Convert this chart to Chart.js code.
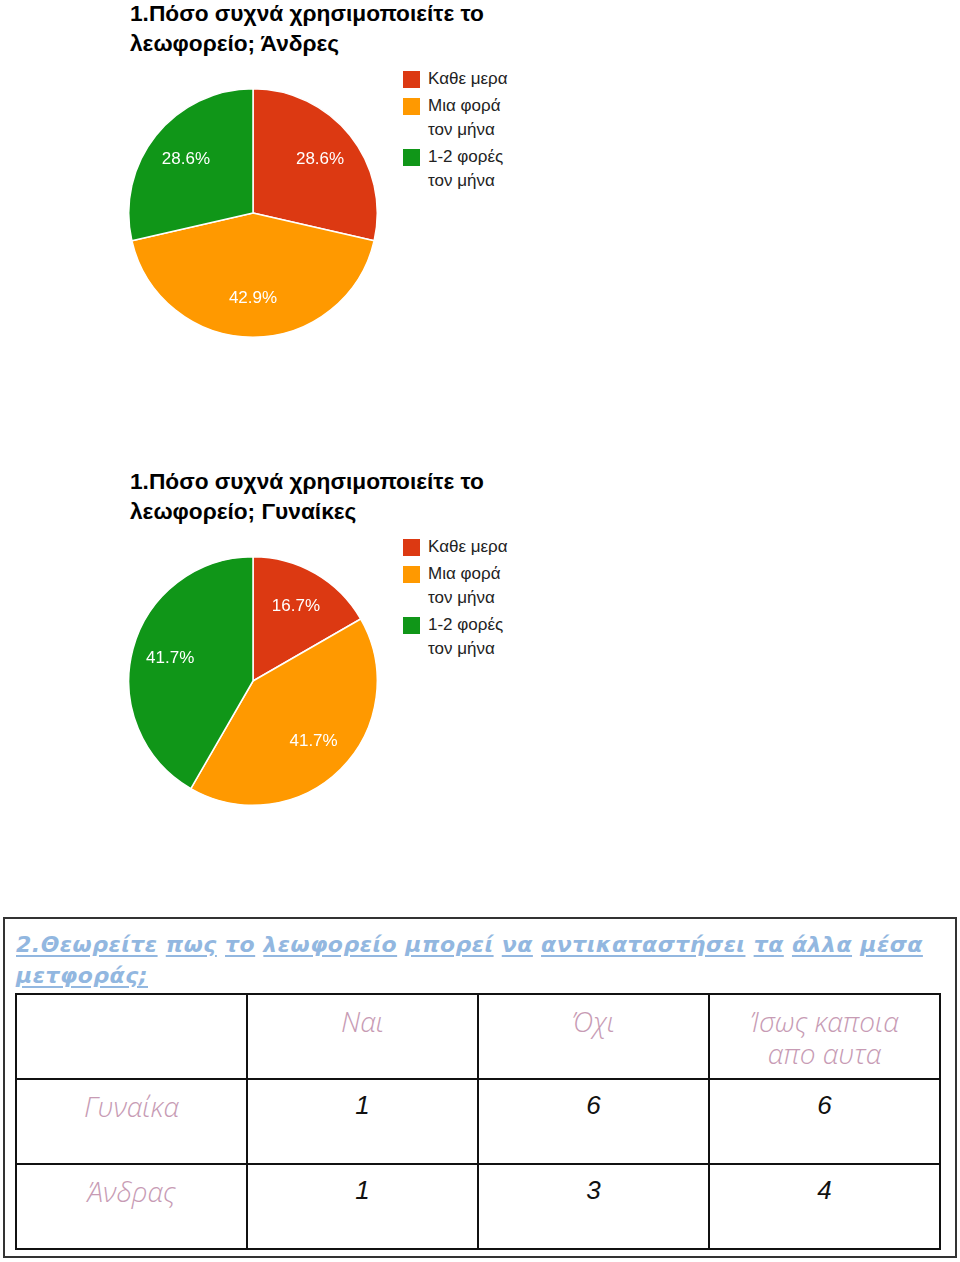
<!DOCTYPE html>
<html>
<head>
<meta charset="utf-8">
<script src="https://cdn.jsdelivr.net/npm/chart.js@4.4.0/dist/chart.umd.min.js"></script>
<style>
    body { margin: 0; background: #fff; }
    #page { position: relative; width: 960px; height: 1262px; overflow: hidden; }
    .title {
        position: absolute; left: 130px;
        font: bold 22.7px "Liberation Sans", Arial, sans-serif;
        line-height: 30px; color: #000;
    }
    .pie { position: absolute; left: 128px; width: 250px; height: 250px; }
    .legend {
        position: absolute; left: 403px; width: 120px;
        font: 17px "Liberation Sans", Arial, sans-serif; color: #222;
    }
    .legend .item { position: relative; padding-left: 25px; line-height: 24px; margin-bottom: 3px; width: 85px; }
    .legend .sw { position: absolute; left: 0; top: 4px; width: 17px; height: 17px; }
    #box {
        position: absolute; left: 3px; top: 917px; width: 950px; height: 337px;
        border: 2px solid #333;
    }
    #q2 {
        position: absolute; left: 11px; top: 10px; width: 940px;
        font: italic bold 22px "DejaVu Sans", sans-serif; letter-spacing: 0.5px;
        line-height: 31px; color: #92b7e0;
    }
    #q2 span { text-decoration: underline; text-underline-offset: 3px; }
    #tbl {
        position: absolute; left: 10px; top: 74px; border-collapse: collapse;
        table-layout: fixed;
    }
    #tbl td {
        width: 189px; height: 73px; border: 2px solid #111; padding: 10px 20px 0 20px;
        vertical-align: top; text-align: center; line-height: 32px;
        font: italic 26px "Liberation Sans", Arial, sans-serif; color: #111;
    }
    #tbl td.h { font: italic 300 28px "Open Sans", sans-serif; color: #c79bb4; line-height: 32px; }
</style>
</head>
<body>
<div id="page">
    <div class="title" style="top: -2px;">1.Πόσο συχνά χρησιμοποιείτε το<br>λεωφορείο; Άνδρες</div>
    <div class="pie" style="top: 88px;"><canvas id="menChart"></canvas></div>
    <div class="legend" id="menLegend" style="top: 67px;"></div>

    <div class="title" style="top: 466px;">1.Πόσο συχνά χρησιμοποιείτε το<br>λεωφορείο; Γυναίκες</div>
    <div class="pie" style="top: 556px;"><canvas id="womenChart"></canvas></div>
    <div class="legend" id="womenLegend" style="top: 535px;"></div>

    <div id="box">
        <div id="q2"></div>
        <table id="tbl"></table>
    </div>
</div>
<script>
// Pie data (percent)
const categories = ['Καθε μερα', 'Μια φορά τον μήνα', '1-2 φορές τον μήνα'];
const menValues = [28.6, 42.9, 28.6];
const womenValues = [16.7, 41.7, 41.7];
const colors = ['#dc3912', '#ff9900', '#109618'];

// Table of question 2
const question2 = '2.Θεωρείτε πως το λεωφορείο μπορεί να αντικαταστήσει τα άλλα μέσα μετφοράς;';
const answers = ['Ναι', 'Όχι', 'Ίσως καποια απο αυτα'];
const groups = ['Γυναίκα', 'Άνδρας'];
const womenAnswers = [1, 6, 6];
const menAnswers = [1, 3, 4];

// percent labels drawn inside each slice
const sliceLabels = {
    id: 'sliceLabels',
    afterDatasetsDraw(chart) {
        const ctx = chart.ctx;
        const meta = chart.getDatasetMeta(0);
        ctx.save();
        ctx.font = '17px "Liberation Sans", Arial, sans-serif';
        ctx.fillStyle = '#fff';
        ctx.textAlign = 'center';
        ctx.textBaseline = 'middle';
        meta.data.forEach((arc, i) => {
            const p = arc.getProps(['x', 'y', 'startAngle', 'endAngle', 'outerRadius'], true);
            const mid = (p.startAngle + p.endAngle) / 2;
            const r = p.outerRadius * 0.69;
            const v = chart.data.datasets[0].data[i];
            ctx.fillText(v.toFixed(1) + '%', p.x + Math.cos(mid) * r, p.y + Math.sin(mid) * r);
        });
        ctx.restore();
    }
};

function makePie(id, values) {
    return new Chart(document.getElementById(id), {
        type: 'pie',
        data: {
            labels: categories,
            datasets: [{
                data: values,
                backgroundColor: colors,
                borderColor: '#fff',
                borderWidth: 1.5
            }]
        },
        options: {
            responsive: true,
            maintainAspectRatio: false,
            animation: false,
            layout: { padding: 0 },
            plugins: {
                legend: { display: false },
                tooltip: { enabled: false }
            }
        },
        plugins: [sliceLabels]
    });
}

function makeLegend(id) {
    const el = document.getElementById(id);
    categories.forEach((c, i) => {
        const item = document.createElement('div');
        item.className = 'item';
        item.innerHTML = '<span class="sw" style="background:' + colors[i] + '"></span>' + c;
        el.appendChild(item);
    });
}

makePie('menChart', menValues);
makePie('womenChart', womenValues);
makeLegend('menLegend');
makeLegend('womenLegend');

// question heading, each word underlined on its own
document.getElementById('q2').innerHTML =
    question2.split(' ').map(w => '<span>' + w + '</span>').join(' ');

// build the answer table
const tbl = document.getElementById('tbl');
let html = '<tr><td class="h"></td>' + answers.map(a => '<td class="h">' + a + '</td>').join('') + '</tr>';
[womenAnswers, menAnswers].forEach((row, i) => {
    html += '<tr><td class="h">' + groups[i] + '</td>' + row.map(v => '<td>' + v + '</td>').join('') + '</tr>';
});
tbl.innerHTML = html;
</script>
</body>
</html>
